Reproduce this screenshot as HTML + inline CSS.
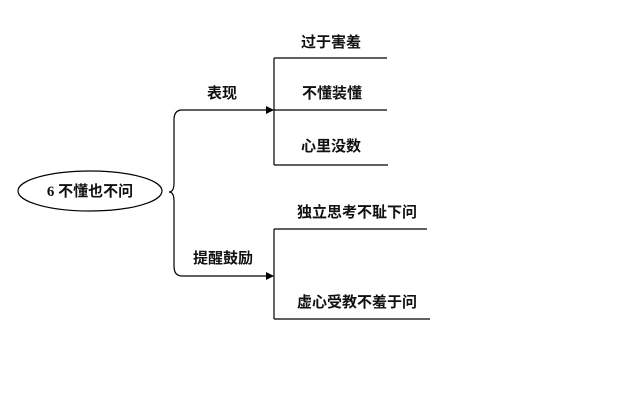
<!DOCTYPE html>
<html><head><meta charset="utf-8"><style>
body{margin:0;background:#fff;width:640px;height:410px;overflow:hidden}
svg text{font-family:"Liberation Serif","Noto Sans CJK SC",sans-serif;font-size:15px;fill:#111;font-weight:bold}
</style></head><body>
<svg width="640" height="410" xmlns="http://www.w3.org/2000/svg">
<defs><marker id="a" markerWidth="8" markerHeight="8" refX="7" refY="4" orient="auto" markerUnits="userSpaceOnUse"><path d="M0,0 L8,4 L0,8 z" fill="#000"/></marker></defs>
<g stroke="#000" stroke-width="1.2" fill="none">
<ellipse cx="90" cy="191" rx="72" ry="20"/>
<path d="M182,110 Q174,110 174,120 L174,183 Q174,192 169,192 Q174,192 174,201 L174,266 Q174,276 182,276"/>
<path d="M182,110 L273,110" marker-end="url(#a)"/>
<path d="M182,276 L273,276" marker-end="url(#a)"/>
<path d="M274,58 L274,165 M274,58 L387,58 M274,110 L387,110 M274,165 L388,165"/>
<path d="M274,229 L274,319 M274,229 L427,229 M274,319 L430,319"/>
</g>
<text x="90" y="196" text-anchor="middle">6 不懂也不问</text>
<text x="222" y="98" text-anchor="middle">表现</text>
<text x="223" y="263" text-anchor="middle">提醒鼓励</text>
<text x="331" y="47" text-anchor="middle">过于害羞</text>
<text x="332" y="98" text-anchor="middle">不懂装懂</text>
<text x="331" y="151" text-anchor="middle">心里没数</text>
<text x="357" y="217" text-anchor="middle">独立思考不耻下问</text>
<text x="357" y="307" text-anchor="middle">虚心受教不羞于问</text>
</svg>
</body></html>
